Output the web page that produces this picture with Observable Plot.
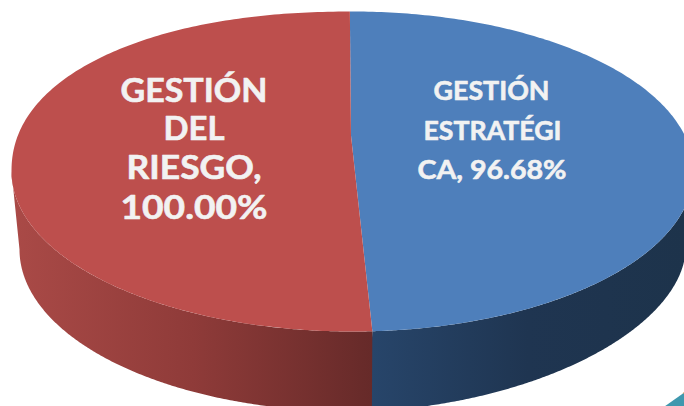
<!DOCTYPE html>
<html>
<head>
<meta charset="utf-8">
<script src="https://cdn.jsdelivr.net/npm/d3@7"></script>
<script src="https://cdn.jsdelivr.net/npm/@observablehq/plot@0.6"></script>
<style>html,body{margin:0;padding:0;background:#fff}svg{display:block}</style>
</head>
<body>
<div id="chart"></div>
<script>
const categories = ["GESTIÓN ESTRATÉGICA", "GESTIÓN DEL RIESGO"];
const values = [96.68, 100.0];
const labelLines = [
  ["GESTIÓN", "ESTRATÉGI", "CA, 96.68%"],
  ["GESTIÓN", "DEL", "RIESGO,", "100.00%"]
];

// Geometry of the tilted, perspective pie, in the plot's x/y units
const top3d = {cx: 352, cy: 171, rx: 341, ry: 160, p: {3: 0.926}};
const hub = {x: 350.5, y: 135};
const base3dRight = {cx: 352, cy: 249, rx: 333, ry: 162, p: {1: 1.08}};
const base3dLeft = {cx: 352, cy: 249, rx: 333, ry: 162, p: {}};
const startDeg = -0.3;
const topColors = ["#4e7fbb", "#bd4f4d"];

// Layout of each label line: centre x, baseline y, drawn width
const labelLayout = [
  {size: 26.5, rows: [[491, 99, 116], [492, 139, 138], [491.5, 178, 149]]},
  {size: 33, rows: [[193.5, 101, 147], [193.5, 139.5, 61], [193.5, 178, 135], [193.5, 218, 147]]}
];

const rad = d => d * Math.PI / 180;
const span = d3.sum(values);
let acc = startDeg;
const slices = values.map((v, i) => {
  const a0 = acc; acc += v / span * 360;
  return {i, a0, a1: acc};
});
const pt = (e, a) => {
  const s = Math.sin(rad(a)), c = Math.cos(rad(a));
  const q = Math.floor((((a % 360) + 360) % 360) / 90);
  const p = e.p[q] || 1;
  return {
    x: e.cx + e.rx * Math.sign(s) * Math.abs(s) ** p,
    y: e.cy - e.ry * Math.sign(c) * Math.abs(c) ** p
  };
};
const arc = (e, a0, a1, n = 240) => d3.range(n + 1).map(k => pt(e, a0 + (a1 - a0) * k / n));

const topFace = slices.flatMap(s => [{...hub, i: s.i}, ...arc(top3d, s.a0, s.a1).map(p => ({...p, i: s.i}))]);
const sideFace = (base, a0, a1) => [...arc(top3d, a0, a1), ...arc(base, a1, a0)];
const blueSide = sideFace(base3dRight, 90, slices[0].a1);
const redSide = sideFace(base3dLeft, slices[1].a0, 270);

const textRows = labelLines.flatMap((lines, i) => lines.map((text, j) => {
  const [x, base, w] = labelLayout[i].rows[j];
  const size = labelLayout[i].size;
  return {text, x, y: base - 0.32 * size, w, size};
}));

const gradients = () => {
  const ns = "http://www.w3.org/2000/svg";
  const defs = document.createElementNS(ns, "defs");
  const add = (id, x1, x2, stops) => {
    const g = document.createElementNS(ns, "linearGradient");
    g.setAttribute("id", id);
    g.setAttribute("gradientUnits", "userSpaceOnUse");
    g.setAttribute("x1", x1); g.setAttribute("x2", x2);
    g.setAttribute("y1", 0); g.setAttribute("y2", 0);
    stops.forEach(([o, c]) => {
      const s = document.createElementNS(ns, "stop");
      s.setAttribute("offset", o); s.setAttribute("stop-color", c);
      g.appendChild(s);
    });
    defs.appendChild(g);
  };
  add("redSide", 11, 372, [[0, "#aa4a47"], [0.5, "#8f3b39"], [1, "#662a29"]]);
  add("blueSide", 371, 684, [[0, "#27456a"], [0.5, "#1f3551"], [1, "#1d334b"]]);
  return defs;
};

const cornerTeal = [{x: 664, y: 406}, {x: 684, y: 392}, {x: 684, y: 406}];
const cornerOrange = [{x: 682, y: 393}, {x: 684, y: 391}, {x: 684, y: 393}];

const chart = Plot.plot({
  width: 684,
  height: 406,
  margin: 0,
  x: {domain: [0, 684], axis: null},
  y: {domain: [406, 0], axis: null},
  style: {background: "#fff"},
  marks: [
    gradients,
    Plot.line(cornerTeal, {x: "x", y: "y", fill: "#3f98ae", stroke: "none", clip: true}),
    Plot.line(cornerOrange, {x: "x", y: "y", fill: "#e0954a", stroke: "none", clip: true}),
    Plot.line(blueSide, {x: "x", y: "y", fill: "url(#blueSide)", stroke: "none", clip: true}),
    Plot.line(redSide, {x: "x", y: "y", fill: "url(#redSide)", stroke: "none", clip: true}),
    Plot.line(topFace, {x: "x", y: "y", z: "i", fill: d => topColors[d.i], stroke: "none", clip: true}),
    Plot.text(textRows, {
      x: "x",
      y: "y",
      text: "text",
      fontSize: "size",
      fontFamily: "Lato",
      fontWeight: "bold",
      fill: "#f2f2f2",
      stroke: "#f2f2f2",
      strokeWidth: 0.6,
      textAnchor: "middle",
      render(index, scales, channels, dimensions, context, next) {
        const g = next(index, scales, channels, dimensions, context);
        d3.select(g).selectAll("text").each(function (i) {
          this.setAttribute("textLength", textRows[i].w);
          this.setAttribute("lengthAdjust", "spacingAndGlyphs");
        });
        return g;
      }
    })
  ]
});
document.getElementById("chart").appendChild(chart);
</script>
</body>
</html>
